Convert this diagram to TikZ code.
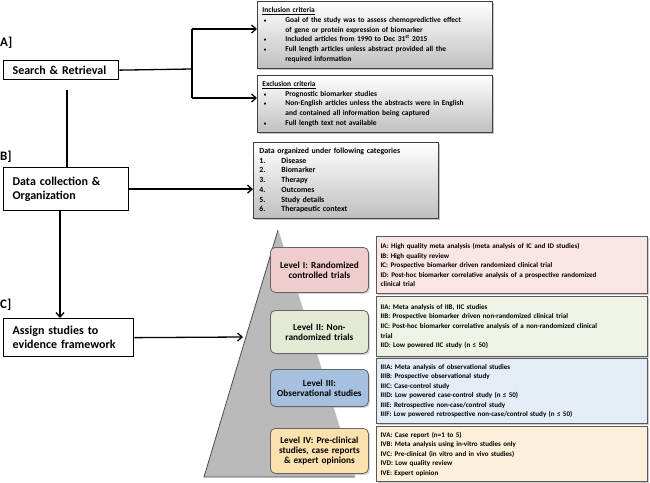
\documentclass[tikz,border=0pt]{standalone}
\usepackage{fontspec}
\setmainfont{Carlito}
\usetikzlibrary{arrows.meta,shadows}
\definecolor{lvlone}{HTML}{EFCDCC}
\definecolor{lvltwo}{HTML}{E3EAD4}
\definecolor{lvlthree}{HTML}{A6C0E0}
\definecolor{lvlfour}{HTML}{FBE1AE}
\definecolor{dscone}{HTML}{F9E5E4}
\definecolor{dsctwo}{HTML}{EEF3E6}
\definecolor{dscthree}{HTML}{E4ECF6}
\definecolor{dscfour}{HTML}{FDF1DB}
\newcommand{\bul}{\makebox[23bp][l]{\hspace{1.5bp}{\fontsize{5}{5}\selectfont\textbullet}}}
\newcommand{\ind}{\hspace*{23bp}}
\newcommand{\num}[1]{\makebox[22bp][l]{#1}}
\begin{document}
\begin{tikzpicture}[x=1bp,y=-1bp,
  arr/.style={line width=1.3bp,-{Straight Barb[length=4.5bp,width=8bp,line width=1.3bp]}},
  ln/.style={line width=1.3bp},
  stepbox/.style={draw=black,line width=1.3bp,fill=white,anchor=north west,inner xsep=9bp,inner ysep=0pt,align=left,font=\bfseries\fontsize{12}{14}\selectfont},
  lab/.style={anchor=west,inner sep=0pt,font=\bfseries\fontsize{13}{15}\selectfont},
  crit/.style={draw=black!75,line width=0.8bp,top color=white,bottom color=black!25,drop shadow={shadow xshift=2bp,shadow yshift=-2bp,fill=black!45},anchor=north west,inner xsep=5bp,inner ysep=0pt,align=left,font=\bfseries\fontsize{7.5}{9.7}\selectfont},
  lvl/.style={draw=black!60,line width=0.8bp,rounded corners=5bp,text width=94bp,align=center,inner xsep=2bp,inner ysep=0pt,anchor=north west,font=\bfseries\fontsize{9.3}{10.2}\selectfont,drop shadow={shadow xshift=1.5bp,shadow yshift=-1.5bp,fill=black!35}},
  desc/.style={draw=black!65,line width=1.2bp,anchor=north west,text width=263bp,inner xsep=4bp,inner ysep=0pt,align=left,font=\bfseries\fontsize{7.1}{9.6}\selectfont,drop shadow={shadow xshift=1.5bp,shadow yshift=-1.5bp,fill=black!40}}
]
\useasboundingbox (0,0) rectangle (650,483);

% pyramid
\fill[black!27] (278,230) -- (204,477) -- (355,477) -- cycle;
\draw[black!70,line width=0.8bp] (355,477) -- (204,477) -- (278,230);
\draw[white!75!black,line width=0.8bp] (278,230) -- (355,477);
\coordinate (pyr) at (243,337);

% labels
\node[lab] (la) at (0,43) {A]};
\node[lab] (lb) at (0,157) {B]};
\node[lab] (lc) at (0,305) {C]};

% left step boxes
\node[stepbox,text width=97bp,minimum height=19bp] (search) at (3,60) {Search \& Retrieval};
\node[stepbox,text width=107bp,minimum height=43bp] (data) at (3,167) {Data collection \&\\Organization};
\node[stepbox,text width=112bp,minimum height=38bp] (assign) at (3,318) {Assign studies to\\evidence framework};

% criteria boxes
\node[crit,text width=225bp,minimum height=67bp] (inc) at (257,1) {\underline{Inclusion criteria}\\
\bul Goal of the study was to assess chemopredictive effect\\
\ind of gene or protein expression of biomarker\\
\bul Included articles from 1990 to Dec 31\textsuperscript{st} 2015\\
\bul Full length articles unless abstract provided all the\\
\ind required information};
\node[crit,text width=225bp,minimum height=57bp] (exc) at (257,75) {\underline{Exclusion criteria}\\
\bul Prognostic biomarker studies\\
\bul Non-English articles unless the abstracts were in English\\
\ind and contained all information being captured\\
\bul Full length text not available};
\node[crit,text width=173bp,inner xsep=6bp,minimum height=76bp,font=\bfseries\fontsize{7.9}{9.8}\selectfont] (dat) at (253,142) {Data organized under following categories\\
\num{1.}Disease\\
\num{2.}Biomarker\\
\num{3.}Therapy\\
\num{4.}Outcomes\\
\num{5.}Study details\\
\num{6.}Therapeutic context};

% description boxes
\node[desc,fill=dscone,minimum height=57bp] (r1) at (376,236) {IA: High quality meta analysis (meta analysis of IC and ID studies)\\
IB: High quality review\\
IC: Prospective biomarker driven randomized clinical trial\\
ID: Post-hoc biomarker correlative analysis of a prospective randomized\\
clinical trial};
\node[desc,fill=dsctwo,minimum height=60bp] (r2) at (376,296) {IIA: Meta analysis of IIB, IIC studies\\
IIB: Prospective biomarker driven non-randomized clinical trial\\
IIC: Post-hoc biomarker correlative analysis of a non-randomized clinical\\
trial\\
IID: Low powered IIC study (n ≤ 50)};
\node[desc,fill=dscthree,minimum height=65bp] (r3) at (376,358) {IIIA: Meta analysis of observational studies\\
IIIB: Prospective observational study\\
IIIC: Case-control study\\
IIID: Low powered case-control study (n ≤ 50)\\
IIIE: Retrospective non-case/control study\\
IIIF: Low powered retrospective non-case/control study (n ≤ 50)};
\node[desc,fill=dscfour,minimum height=55bp] (r4) at (376,426) {IVA: Case report (n=1 to 5)\\
IVB: Meta analysis using in-vitro studies only\\
IVC: Pre-clinical (in vitro and in vivo studies)\\
IVD: Low quality review\\
IVE: Expert opinion};

% level boxes
\node[lvl,fill=lvlone,minimum height=45bp] (l1) at (270,247) {Level I: Randomized\\controlled trials};
\node[lvl,fill=lvltwo,minimum height=43bp] (l2) at (270,310) {Level II: Non-\\randomized trials};
\node[lvl,fill=lvlthree,minimum height=37bp] (l3) at (270,369) {Level III:\\Observational studies};
\node[lvl,fill=lvlfour,minimum height=45bp] (l4) at (270,428) {Level IV: Pre-clinical\\studies, case reports\\\& expert opinions};

% connectors
\coordinate (j0) at (192,69);
\coordinate (j1) at (192,29);
\coordinate (j2) at (192,98);
\draw[ln] (search.east) -- (j0);
\draw[ln] (j1) -- (j2);
\draw[arr] (j1) -- (inc.west |- j1);
\draw[arr] (j2) -- (exc.west |- j2);
\coordinate (v1) at (67,90);
\draw[ln] (v1) -- (v1 |- data.north);
\draw[arr] (data.east) -- (dat.west |- data.east);
\coordinate (v2) at (60,210);
\draw[arr] (v2) -- (v2 |- assign.north);
\draw[arr] (assign.east) -- (pyr);
\end{tikzpicture}
\end{document}
